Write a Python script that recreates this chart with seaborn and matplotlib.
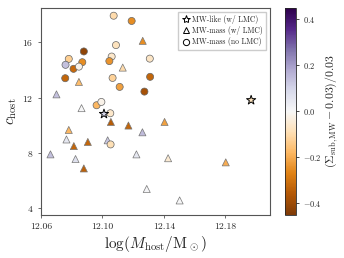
import matplotlib
matplotlib.use('Agg')
import matplotlib.pyplot as plt
from matplotlib.lines import Line2D
import numpy as np
import pandas as pd
import seaborn as sns

sns.set_style('ticks')
plt.rcParams['font.family'] = ['cmr10', 'DejaVu Serif']
plt.rcParams['mathtext.fontset'] = 'cm'
plt.rcParams['axes.formatter.use_mathtext'] = True

# MW-mass hosts without LMC (circles)
noLMC_mass = [12.1073, 12.1190, 12.1088, 12.0879, 12.0781, 12.1060, 12.0869,
              12.1045, 12.0760, 12.0812, 12.0847, 12.1308, 12.0758, 12.1066,
              12.1112, 12.1310, 12.1273, 12.0962, 12.0993, 12.1051, 12.1053]
noLMC_conc = [17.94, 17.56, 15.81, 15.35, 14.81, 14.98, 14.57,
              14.65, 14.38, 14.09, 14.25, 14.83, 13.41, 13.43,
              12.78, 13.51, 12.44, 11.45, 11.69, 10.87, 8.61]
noLMC_sigma = [-0.10, -0.25, -0.08, -0.42, -0.13, -0.06, -0.25,
               -0.24, 0.14, -0.32, -0.02, -0.07, -0.33, -0.12,
               -0.22, -0.33, -0.38, -0.18, -0.02, -0.06, -0.09]

# MW-mass hosts with LMC (triangles)
LMC_mass = [12.1262, 12.1132, 12.0847, 12.0701, 12.0864, 12.1055, 12.1169,
            12.1260, 12.0781, 12.0766, 12.0814, 12.0905, 12.1034, 12.0662,
            12.0825, 12.0879, 12.1221, 12.1288, 12.1404, 12.1427, 12.1802,
            12.1502]
LMC_conc = [16.12, 14.18, 13.14, 12.24, 11.24, 10.24, 9.98,
            9.49, 9.66, 8.97, 8.49, 8.79, 8.91, 7.89,
            7.55, 6.87, 7.89, 5.38, 10.24, 7.61, 7.31,
            4.55]
LMC_sigma = [-0.25, -0.10, -0.17, 0.14, 0.00, -0.35, -0.33,
             0.15, -0.18, 0.05, -0.33, -0.33, 0.13, 0.14,
             0.07, -0.34, 0.05, 0.01, -0.22, -0.05, -0.20,
             0.00]

# MW-like hosts (stars)
MWlike_mass = [12.1010, 12.1967]
MWlike_conc = [10.82, 11.82]
MWlike_sigma = [0.10, -0.08]

vmin, vmax = -0.45, 0.45
cmap = 'PuOr'

fig = plt.figure(figsize=(3.44, 2.58), dpi=100)
ax = fig.add_axes([0.119, 0.167, 0.666, 0.802])
cax = fig.add_axes([0.828, 0.167, 0.032, 0.802])

common = dict(hue_norm=(vmin, vmax), palette=cmap, legend=False, ax=ax)
sns.scatterplot(x=LMC_mass, y=LMC_conc, hue=LMC_sigma, marker='^', s=26,
                edgecolor='#777777', linewidth=0.5, **common)
sns.scatterplot(x=noLMC_mass, y=noLMC_conc, hue=noLMC_sigma, marker='o', s=26,
                edgecolor='#666666', linewidth=0.5, **common)
sns.scatterplot(x=MWlike_mass, y=MWlike_conc, hue=MWlike_sigma, marker='*', s=48,
                edgecolor='black', linewidth=0.7, zorder=5, **common)

ax.set_xlim(12.06, 12.209)
ax.set_ylim(3.5, 18.5)
ax.set_xticks([12.06, 12.10, 12.14, 12.18])
ax.set_xticklabels(['12.06', '12.10', '12.14', '12.18'])
ax.set_yticks([4, 8, 12, 16])
ax.tick_params(labelsize=7, length=2, width=0.6, color='#555555')
for sp in ax.spines.values():
    sp.set_color('#555555')
    sp.set_linewidth(0.8)
ax.set_xlabel(r'$\log(M_{\rm host}/{\rm M_\odot})$', fontsize=11, labelpad=2)
ax.set_ylabel(r'$c_{\rm host}$', fontsize=11, labelpad=2)

sm = plt.cm.ScalarMappable(cmap=cmap, norm=plt.Normalize(vmin, vmax))
cb = fig.colorbar(sm, cax=cax)
cb.set_ticks([-0.4, -0.2, 0.0, 0.2, 0.4])
cb.ax.tick_params(labelsize=6, length=2, width=0.6)
cb.outline.set_linewidth(0.6)
cb.set_label(r'$(\Sigma_{\rm sub,MW}-0.03)/0.03$', fontsize=8.5, labelpad=1)

handles = [
    Line2D([], [], marker='*', ls='none', mfc='none', mec='black', ms=6, mew=0.7),
    Line2D([], [], marker='^', ls='none', mfc='none', mec='black', ms=4.5, mew=0.7),
    Line2D([], [], marker='o', ls='none', mfc='none', mec='black', ms=4.5, mew=0.7),
]
labels = ['MW-like (w/ LMC)', 'MW-mass (w/ LMC)', 'MW-mass (no LMC)']
ax.legend(handles, labels, loc='upper right', fontsize=5.5, handletextpad=0.3,
          borderpad=0.4, labelspacing=0.3, handlelength=1.2, framealpha=1,
          edgecolor='#cccccc', fancybox=False)

fig.savefig('out.png', dpi=100)
